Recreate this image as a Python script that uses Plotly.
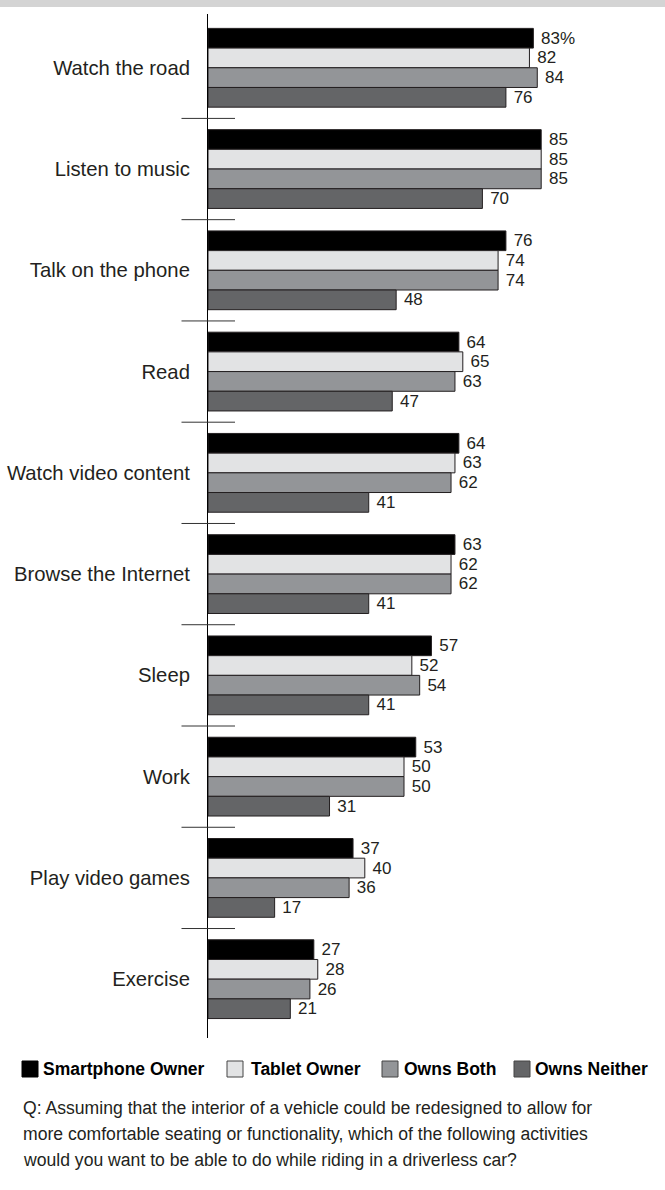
import plotly.graph_objects as go

categories = ["Watch the road", "Listen to music", "Talk on the phone", "Read",
              "Watch video content", "Browse the Internet", "Sleep", "Work",
              "Play video games", "Exercise"]
series_names = ["Smartphone Owner", "Tablet Owner", "Owns Both", "Owns Neither"]
smartphone = [83, 85, 76, 64, 64, 63, 57, 53, 37, 27]
tablet = [82, 85, 74, 65, 63, 62, 52, 50, 40, 28]
both = [84, 85, 74, 63, 62, 62, 54, 50, 36, 26]
neither = [76, 70, 48, 47, 41, 41, 41, 31, 17, 21]
question_lines = [
    "Q: Assuming that the interior of a vehicle could be redesigned to allow for",
    "more comfortable seating or functionality, which of the following activities",
    "would you want to be able to do while riding in a driverless car?",
]

colors = ["#000000", "#e2e3e4", "#939598", "#646567"]
outline = "#231f20"
txtcol = "#231f20"
FONT = "Liberation Sans, Arial, sans-serif"

W, H = 665, 1190
ML, MR, MT, MB = 208, 57, 14, 152
PW = W - ML - MR
PH = H - MT - MB

def px_x(p):
    return (p - ML) / PW

def px_y(p):
    return (H - MB - p) / PH

fig = go.Figure()
all_series = [smartphone, tablet, both, neither]
NB = "\u00a0"
for idx, (name, vals, col) in enumerate(zip(series_names, all_series, colors)):
    if idx == 0:
        texts = [NB + (f"{v}%" if i == 0 else str(v)) for i, v in enumerate(vals)]
    else:
        texts = [NB + str(v) for v in vals]
    fig.add_trace(go.Bar(
        y=categories, x=vals, name=name, orientation="h",
        marker=dict(color=col, line=dict(color=outline, width=1)),
        text=texts, textposition="outside", constraintext="none",
        textfont=dict(family=FONT, size=17, color=txtcol),
        cliponaxis=False, showlegend=False, hoverinfo="skip",
    ))

yrange = [9.581, -0.531]
boundaries = [i + 0.5 for i in range(len(categories) - 1)]

fig.update_layout(
    width=W, height=H,
    margin=dict(l=ML, r=MR, t=MT, b=MB, pad=0, autoexpand=False),
    paper_bgcolor="white", plot_bgcolor="white",
    barmode="group", bargap=0.222, bargroupgap=0,
    xaxis=dict(range=[0, PW / 3.92], showgrid=False, zeroline=False, automargin=False,
               showticklabels=False, ticks="", showline=False, fixedrange=True),
    yaxis=dict(type="category", categoryorder="array", categoryarray=categories,
               range=yrange, showgrid=False, zeroline=False, ticks="", automargin=False,
               showline=True, linecolor="#000000", linewidth=1,
               ticklabelstandoff=13,
               tickfont=dict(family=FONT, size=20.3, color=txtcol)),
    showlegend=False,
)

shapes = []
# top gray band
shapes.append(dict(type="rect", xref="paper", yref="paper",
                   x0=px_x(0), x1=px_x(W), y0=px_y(7), y1=px_y(0),
                   fillcolor="#d4d4d4", line=dict(width=0), layer="above"))

# category boundary tick marks crossing the axis
for b in boundaries:
    shapes.append(dict(type="line", xref="paper", yref="y",
                       x0=px_x(181.5), x1=px_x(235), y0=b, y1=b,
                       line=dict(color="#333333", width=1)))

# legend
sw_left = [22, 227, 382, 514]
txt_left = [41, 249, 402, 533]
leg_y = 1069
annotations = []
for name, col, sx, tx in zip(series_names, colors, sw_left, txt_left):
    shapes.append(dict(type="rect", xref="paper", yref="paper",
                       x0=px_x(sx), x1=px_x(sx + 16), y0=px_y(leg_y + 8), y1=px_y(leg_y - 8),
                       fillcolor=col, line=dict(color="#444444" if col != "#000000" else col, width=1)))
    annotations.append(dict(xref="paper", yref="paper", x=px_x(tx), y=px_y(leg_y),
                            xanchor="left", yanchor="middle", showarrow=False,
                            text=f"<b>{name}</b>",
                            font=dict(family=FONT, size=17.5, color="#000000")))

for i, line in enumerate(question_lines):
    annotations.append(dict(xref="paper", yref="paper", x=px_x(20.5), y=px_y(1108 + 26 * i),
                            xanchor="left", yanchor="middle", showarrow=False,
                            text=line, font=dict(family=FONT, size=17.6, color=txtcol)))

fig.update_layout(shapes=shapes, annotations=annotations)

fig.write_html("out.html")
